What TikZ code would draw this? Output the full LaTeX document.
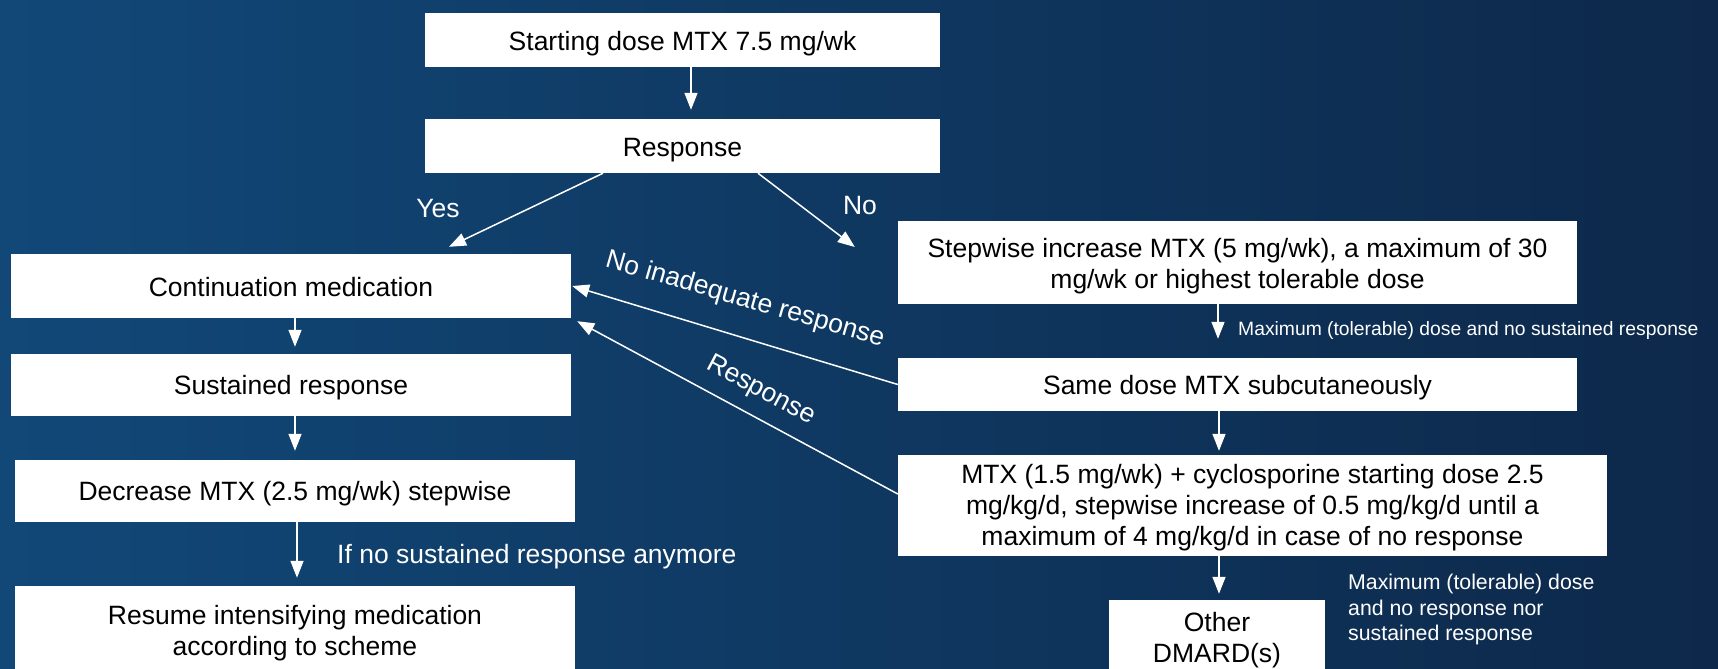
\documentclass[tikz,border=0pt]{standalone}
\usepackage{fontspec}
\setmainfont{Liberation Sans}
\usetikzlibrary{arrows.meta}
\definecolor{bgleft}{RGB}{17,72,120}
\definecolor{bgright}{RGB}{13,40,74}
\tikzset{
  box/.style={fill=white, inner sep=0pt},
  txt/.style={inner sep=0pt, align=center, text=black,
    font=\fontsize{26.5}{31}\selectfont},
  arr/.style={draw=white, line width=1.5pt, -{Triangle[width=13pt,length=17pt]}},
  lbl/.style={text=white, inner sep=0pt, font=\fontsize{26.5}{31}\selectfont},
  slbl/.style={text=white, inner sep=0pt, align=left},
}
\begin{document}
\begin{tikzpicture}[x=1pt,y=-1pt]
\useasboundingbox (0,0) rectangle (1718,669);
\clip (0,0) rectangle (1718,669);
\shade[left color=bgleft, right color=bgright] (0,0) rectangle (1718,669);

\node[box, minimum width=515pt, minimum height=54pt] (start) at (682.5,40) {};
\node[txt] (startT) at ([yshift=-4pt]start.center) {Starting dose MTX 7.5 mg/wk};
\node[box, minimum width=515pt, minimum height=54pt] (resp) at (682.5,146) {};
\node[txt] (respT) at ([yshift=-4pt]resp.center) {Response};
\node[box, minimum width=560pt, minimum height=64pt] (cont) at (291,286) {};
\node[txt] (contT) at ([yshift=-1.5pt]cont.center) {Continuation medication};
\node[box, minimum width=560pt, minimum height=62pt] (sust) at (291,385) {};
\node[txt] (sustT) at ([yshift=-3pt]sust.center) {Sustained response};
\node[box, minimum width=560pt, minimum height=62pt] (decr) at (295,491) {};
\node[txt] (decrT) at ([yshift=-3pt]decr.center) {Decrease MTX (2.5 mg/wk) stepwise};
\node[box, minimum width=560pt, minimum height=90pt] (resume) at (295,631) {};
\node[txt] (resumeT) at ([yshift=-2.5pt]resume.center) {Resume intensifying medication\\according to scheme};
\node[box, minimum width=679pt, minimum height=83pt] (step) at (1237.5,262.5) {};
\node[txt] (stepT) at ([yshift=-4pt]step.center) {Stepwise increase MTX (5 mg/wk), a maximum of 30\\mg/wk or highest tolerable dose};
\node[box, minimum width=679pt, minimum height=53pt] (same) at (1237.5,384.5) {};
\node[txt] (sameT) at ([yshift=-3pt]same.center) {Same dose MTX subcutaneously};
\node[box, minimum width=709pt, minimum height=101pt] (mtxc) at (1252.5,505.5) {};
\node[txt] (mtxcT) at ([yshift=-2.5pt]mtxc.center) {MTX (1.5 mg/wk) + cyclosporine starting dose 2.5\\mg/kg/d, stepwise increase of 0.5 mg/kg/d until a\\maximum of 4 mg/kg/d in case of no response};
\node[box, minimum width=216pt, minimum height=76pt] (other) at (1217,638) {};
\node[txt] (otherT) at ([yshift=-2pt]other.center) {Other\\DMARD(s)};

\draw[arr] ([xshift=8.5pt]start.south) -- ([xshift=8.5pt,yshift=9pt]resp.north);
\draw[arr] ([xshift=-79.5pt]resp.south) -- ([xshift=158pt,yshift=7pt]cont.north);
\draw[arr] ([xshift=75.5pt]resp.south) -- ([xshift=-43pt,yshift=15.5pt]step.west);
\draw[arr] ([xshift=4pt]cont.south) -- ([xshift=4pt,yshift=7pt]sust.north);
\draw[arr] ([xshift=4pt]sust.south) -- ([yshift=9pt]decr.north);
\draw[arr] ([xshift=2pt]decr.south) -- ([xshift=2pt,yshift=8pt]resume.north);
\draw[arr] ([xshift=-19.5pt]step.south) -- ([xshift=-19.5pt,yshift=19pt]same.north);
\draw[arr] ([xshift=-18.5pt]same.south) -- ([xshift=-33.5pt,yshift=4pt]mtxc.north);
\draw[arr] ([xshift=-33.5pt]mtxc.south) -- ([xshift=2pt,yshift=6pt]other.north);
\draw[arr] (same.west) -- ([xshift=1pt]cont.east);
\draw[arr] ([yshift=11.5pt]mtxc.west) -- ([xshift=6pt,yshift=-3pt]cont.south east);

\node[lbl] (lyes) at (438,209) {Yes};
\node[lbl] (lno) at (860,206) {No};
\node[lbl, rotate=-16] (lnoinad) at (745,300) {No inadequate response};
\node[lbl, rotate=-28] (lresp) at (761,391) {Response};
\node[slbl, anchor=west, font=\fontsize{19.3}{23}\selectfont] (lmax1) at (1238,331) {Maximum (tolerable) dose and no sustained response};
\node[slbl, anchor=north west, font=\fontsize{21.3}{25.5}\selectfont] (lmax2) at (1348,574) {Maximum (tolerable) dose\\and no response nor\\sustained response};
\node[lbl, anchor=west] (lifno) at (337,557) {If no sustained response anymore};
\end{tikzpicture}
\end{document}
